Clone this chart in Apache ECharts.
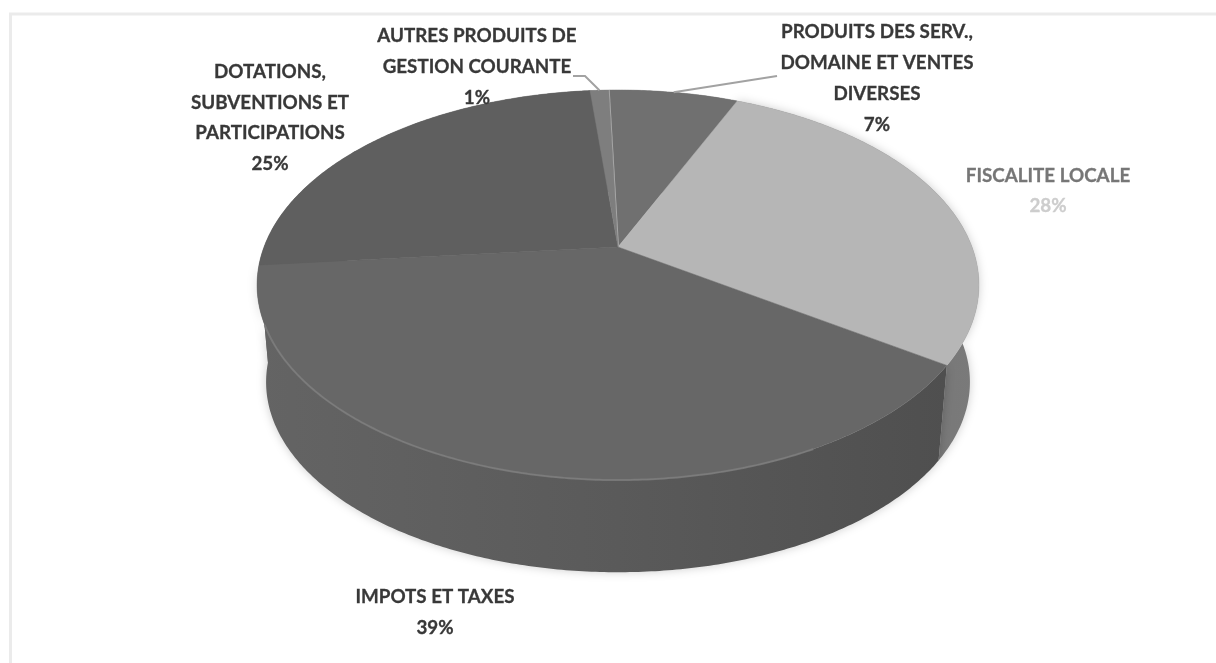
<!DOCTYPE html>
<html>
<head>
<meta charset="utf-8">
<style>html,body{margin:0;padding:0;background:#fff}#chart{width:1216px;height:663px}</style>
<script src="https://cdn.jsdelivr.net/npm/echarts@6/dist/echarts.min.js"></script>
</head>
<body>
<div id="chart"></div>
<script>
// Répartition des recettes, en pourcentage, dans le sens horaire depuis le haut
const categories = [
  ['PRODUITS DES SERV.,', 'DOMAINE ET VENTES', 'DIVERSES'],
  ['FISCALITE LOCALE'],
  ['IMPOTS ET TAXES'],
  ['DOTATIONS,', 'SUBVENTIONS ET', 'PARTICIPATIONS'],
  ['AUTRES PRODUITS DE', 'GESTION COURANTE']
];
const shares = [7, 28, 39, 25, 1];

const topColors = ['#707070', '#b6b6b6', '#676767', '#5f5f5f', '#7e7e7e'];
const sideColors = [
  ['#666666', '#666666'],
  ['#5f5f5f', '#7a7a7a'],
  ['#646464', '#5a5a5a', '#4e4e4e'],
  ['#646464', '#5a5a5a', '#4e4e4e'],
  ['#666666', '#666666']
];
const labelStyle = [
  { x: 877, y: 32, step: 31, color: '#383838', pct: '#383838' },
  { x: 1048, y: 176, step: 30, color: '#767676', pct: '#cdcdcd' },
  { x: 435, y: 597, step: 31, color: '#383838', pct: '#383838' },
  { x: 270, y: 72, step: 30.5, color: '#383838', pct: '#383838' },
  { x: 477, y: 36, step: 31, color: '#383838', pct: '#383838' }
];
// Extrémité libre des traits de rappel, par catégorie
const leaderEnds = { 0: [[777, 76]], 4: [[585, 76], [573, 76]] };

// Projection perspective du disque sur l'écran
const view = { cx: 618, cy: 247, sx: 354, sy: 187.6, tilt: -0.195, depth: 98, shrink: 0.975 };
const startAngle = -1.8 * Math.PI / 180;

function project(angle, level) {
  const u = Math.sin(angle), v = -Math.cos(angle);
  const d = 1 + view.tilt * v;
  let x = view.sx * u / d, y = view.sy * v / d;
  if (level) { x *= view.shrink; y = y * view.shrink + view.depth; }
  return [view.cx + x, view.cy + y];
}
function arc(a0, a1, level) {
  const n = Math.max(2, Math.ceil((a1 - a0) / 0.01));
  const pts = [];
  for (let i = 0; i <= n; i++) pts.push(project(a0 + (a1 - a0) * i / n, level));
  return pts;
}

const total = shares.reduce((a, b) => a + b, 0);
const bounds = [startAngle];
shares.forEach((s, i) => bounds.push(bounds[i] + s / total * Math.PI * 2));
const indices = categories.map((_, i) => i);

function renderSide(params) {
  const i = params.dataIndex;
  const top = arc(bounds[i], bounds[i + 1], 0);
  const low = arc(bounds[i], bounds[i + 1], 1).reverse();
  const stops = sideColors[i].map((c, k, a) => ({ offset: k / (a.length - 1), color: c }));
  const style = {
    fill: { type: 'linear', x: 256, y: 0, x2: 978, y2: 0, colorStops: stops, global: true }
  };
  // Seules les faces visibles de l'avant projettent une ombre
  if (i === 1 || i === 2) {
    style.shadowBlur = 10;
    style.shadowColor = 'rgba(0,0,0,0.2)';
  }
  return { type: 'polygon', shape: { points: top.concat(low) }, style };
}

function renderTop(params) {
  const i = params.dataIndex;
  const rim = arc(bounds[i], bounds[i + 1], 0);
  const children = [{
    type: 'polygon',
    shape: { points: [[view.cx, view.cy]].concat(rim) },
    style: { fill: topColors[i], stroke: topColors[i], lineWidth: 0.5 }
  }];
  if (i === 0) {
    children.push({
      type: 'polyline',
      shape: { points: [[view.cx, view.cy], project(bounds[0], 0)] },
      style: { stroke: '#b2b2b2', lineWidth: 2, fill: null }
    });
  }
  if (i === 2) {
    children.push({
      type: 'polyline',
      shape: { points: arc(bounds[i] + 0.5, bounds[i + 1] - 0.3, 0) },
      style: { stroke: '#7e7e7e', lineWidth: 2, fill: null, opacity: 0.8 }
    });
  }
  return { type: 'group', children };
}

function renderLabel(params) {
  const i = params.dataIndex;
  const s = labelStyle[i];
  const font = 'bold 18.8px Lato';
  const children = [];
  const lines = categories[i];
  lines.forEach((t, k) => children.push({
    type: 'text',
    style: {
      x: s.x, y: s.y + k * s.step, text: t, align: 'center', verticalAlign: 'middle',
      font, fill: s.color, stroke: s.color, lineWidth: 0.3
    }
  }));
  children.push({
    type: 'text',
    style: {
      x: s.x, y: s.y + lines.length * s.step, text: shares[i] + '%', align: 'center', verticalAlign: 'middle',
      font, fill: s.pct, stroke: s.pct, lineWidth: 0.3
    }
  });
  if (leaderEnds[i]) {
    const mid = (bounds[i] + bounds[i + 1]) / 2;
    children.push({
      type: 'polyline',
      shape: { points: [project(mid, 0)].concat(leaderEnds[i]) },
      style: { stroke: '#a2a2a2', lineWidth: 2, fill: null }
    });
  }
  return { type: 'group', children };
}

const chart = echarts.init(document.getElementById('chart'), null, { renderer: 'canvas' });
chart.setOption({
  animation: false,
  backgroundColor: '#ffffff',
  graphic: [
    { type: 'polyline', shape: { points: [[10.5, 663], [10.5, 14], [1216, 14]] },
      style: { stroke: '#ebebeb', lineWidth: 3, fill: null }, silent: true }
  ],
  series: [
    { type: 'custom', coordinateSystem: 'none', data: indices, renderItem: renderSide, z: 2, silent: true },
    { type: 'custom', coordinateSystem: 'none', data: indices, renderItem: renderTop, z: 3, silent: true },
    { type: 'custom', coordinateSystem: 'none', data: indices, renderItem: renderLabel, z: 4, silent: true }
  ]
});
</script>
</body>
</html>
